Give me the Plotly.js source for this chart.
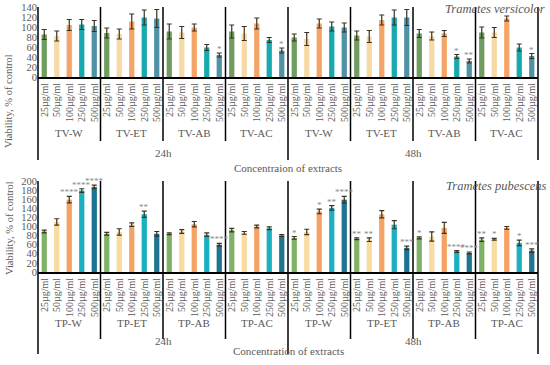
<!DOCTYPE html>
<html>
<head>
<meta charset="utf-8">
<script src="https://cdn.plot.ly/plotly-3.0.1.min.js"></script>
<style>html,body{margin:0;padding:0;background:#fff}#chart{width:550px;height:365px}</style>
</head>
<body>
<div id="chart"></div>
<script>
// ---- data ----
const concentrations = ["25µg/ml","50µg/ml","100µg/ml","250µg/ml","500µg/ml"];
const tvGroups = ["TV-W","TV-ET","TV-AB","TV-AC","TV-W","TV-ET","TV-AB","TV-AC"];
const tpGroups = ["TP-W","TP-ET","TP-AB","TP-AC","TP-W","TP-ET","TP-AB","TP-AC"];
const times = ["24h","48h"];

// Trametes versicolor (values per group, one array per concentration)
const tv25  = [85, 88, 91, 91, 79, 83, 87, 89];
const tv50  = [82, 86, 89, 87, 76, 81, 82, 89];
const tv100 = [104, 111, 99, 107, 107, 114, 87, 117];
const tv250 = [105, 119, 59, 74, 101, 119, 41, 59];
const tv500 = [102, 117, 44, 53, 99, 119, 32, 42];
const tv25err  = [10, 10, 15, 13, 7, 9, 8, 11];
const tv50err  = [10, 10, 12, 14, 13, 12, 8, 10];
const tv100err = [11, 15, 7, 11, 9, 10, 6, 5];
const tv250err = [10, 15, 6, 5, 9, 15, 4, 7];
const tv500err = [11, 18, 4, 5, 9, 16, 4, 5];
const tv25stars  = ["","","","","","","",""];
const tv50stars  = ["","","","","","","",""];
const tv100stars = ["","","","","","","",""];
const tv250stars = ["","","","","","","*",""];
const tv500stars = ["","","*","*","","","**","*"];

// Trametes pubescens
const tp25  = [89, 84, 84, 92, 75, 73, 75, 71];
const tp50  = [110, 88, 89, 86, 88, 71, 78, 72];
const tp100 = [159, 104, 105, 100, 133, 127, 97, 97];
const tp250 = [179, 127, 82, 96, 141, 104, 45, 64];
const tp500 = [187, 84, 60, 80, 159, 53, 42, 47];
const tp25err  = [3, 3, 2, 4, 3, 2, 2, 4];
const tp50err  = [7, 7, 4, 3, 6, 4, 10, 2];
const tp100err = [7, 4, 6, 3, 5, 8, 12, 3];
const tp250err = [4, 7, 4, 3, 5, 9, 2, 6];
const tp500err = [4, 5, 3, 2, 7, 4, 2, 4];
const tp25stars  = ["","","","","*","**","*","**"];
const tp50stars  = ["","","","","","**","","*"];
const tp100stars = ["****","","","","*","","",""];
const tp250stars = ["****","**","","","**","","****","*"];
const tp500stars = ["****","","****","","****","***","****","***"];

// ---- styling ----
const tvColors = ["#6f9c5f","#f7d9a6","#f4a467","#16a9ad","#4f92a6"];
const tpColors = ["#7fb266","#f9dba0","#f5a264","#1bb0c0","#1d7391"];
const errColor = "#3b3322";
const FONT = "Liberation Serif, Times New Roman, serif";
const GREY = "#595959";

const tvVals = [tv25, tv50, tv100, tv250, tv500];
const tvErrs = [tv25err, tv50err, tv100err, tv250err, tv500err];
const tvStars = [tv25stars, tv50stars, tv100stars, tv250stars, tv500stars];
const tpVals = [tp25, tp50, tp100, tp250, tp500];
const tpErrs = [tp25err, tp50err, tp100err, tp250err, tp500err];
const tpStars = [tp25stars, tp50stars, tp100stars, tp250stars, tp500stars];

const nC = concentrations.length, nG = tvGroups.length;
const H = 365, L = 38, PW = 500;
const px = p => 1 - p / H;          // pixel row -> paper y
const pxX = p => (p - L) / PW;       // pixel column -> paper x

const traces = [];
const annotations = [];

function addSet(vals, errs, stars, colors, xa, ya) {
  for (let c = 0; c < nC; c++) {
    const xs = vals[c].map((v, g) => g * nC + c);
    traces.push({
      type: "bar", x: xs, y: vals[c], width: 0.42,
      marker: {color: colors[c]},
      error_y: {type: "data", array: errs[c], visible: true, color: errColor, thickness: 1.2, width: 2.5},
      xaxis: xa, yaxis: ya, showlegend: false, hoverinfo: "y"
    });
    vals[c].forEach((v, g) => {
      if (stars[c][g]) {
        annotations.push({
          x: g * nC + c, y: v + errs[c][g], xref: xa, yref: ya,
          text: stars[c][g], showarrow: false, yanchor: "bottom", yshift: -3,
          font: {family: FONT, size: 9, color: "#8a8a8a"}
        });
      }
    });
  }
}
addSet(tvVals, tvErrs, tvStars, tvColors, "x", "y");
addSet(tpVals, tpErrs, tpStars, tpColors, "x2", "y2");

const tickvals = [], ticktext = [];
for (let g = 0; g < nG; g++) for (let c = 0; c < nC; c++) { tickvals.push(g * nC + c); ticktext.push(concentrations[c]); }

// group labels, time labels
function labels(groups, groupY, timeY, xa) {
  groups.forEach((name, g) => annotations.push({
    x: g * nC + (nC - 1) / 2, xref: xa, y: px(groupY), yref: "paper", text: name, showarrow: false,
    font: {family: FONT, size: 11, color: GREY}
  }));
  times.forEach((t, i) => annotations.push({
    x: i * nC * nG / 2 + (nC * nG / 2 - 1) / 2, xref: xa, y: px(timeY), yref: "paper", text: t, showarrow: false,
    font: {family: FONT, size: 11, color: GREY}
  }));
}
labels(tvGroups, 133, 153, "x");
labels(tpGroups, 331, 349, "x2");

annotations.push({x: 0.5, xref: "paper", y: px(168), yref: "paper", text: "Concentraion of extracts", showarrow: false, font: {family: FONT, size: 11, color: GREY}});
annotations.push({x: 0.5, xref: "paper", y: px(359), yref: "paper", text: "Concentration of extracts", showarrow: false, font: {family: FONT, size: 11, color: GREY}});
annotations.push({x: pxX(547), xref: "paper", xanchor: "right", y: px(0), yanchor: "top", yref: "paper", text: "<i>Trametes versicolor</i>", showarrow: false, font: {family: FONT, size: 12.5, color: GREY}});
annotations.push({x: pxX(548), xref: "paper", xanchor: "right", y: px(177), yanchor: "top", yref: "paper", text: "<i>Trametes pubescens</i>", showarrow: false, font: {family: FONT, size: 12.5, color: GREY}});
// y-axis titles
annotations.push({x: pxX(9), xref: "paper", xanchor: "center", y: px(52), yref: "paper", text: "Viability, % of control", textangle: -90, showarrow: false, font: {family: FONT, size: 10.5, color: GREY}});
annotations.push({x: pxX(9), xref: "paper", xanchor: "center", y: px(228), yref: "paper", text: "Viability, % of control", textangle: -90, showarrow: false, font: {family: FONT, size: 10.5, color: GREY}});

// separator lines
const shapes = [];
function seps(top, shortBottom, longBottom) {
  for (let g = 0; g <= nG; g++) {
    const isLong = (g === 0 || g === nG || g === nG / 2);
    shapes.push({type: "line", xref: "paper", yref: "paper", x0: g / nG, x1: g / nG,
      y0: px(top), y1: px(isLong ? longBottom : shortBottom), line: {color: "#000", width: 1.5}});
  }
}
seps(7, 141, 160);
seps(181, 339, 354);

const axFont = {family: FONT, size: 10.5, color: GREY};
const xCommon = {
  range: [-0.5, nC * nG - 0.5], tickmode: "array", tickvals: tickvals, ticktext: ticktext,
  tickangle: -90, tickfont: {family: FONT, size: 10, color: GREY}, showgrid: false, zeroline: false,
  showline: true, linecolor: "#000", linewidth: 2, ticks: "", fixedrange: true
};
const yCommon = {
  dtick: 20, tickfont: axFont, showgrid: false, zeroline: false, showline: false, ticks: ""
};

const layout = {
  width: 550, height: 365,
  margin: {l: L, r: 550 - L - PW, t: 0, b: 0},
  paper_bgcolor: "#fff", plot_bgcolor: "#fff",
  barmode: "overlay", showlegend: false,
  xaxis: Object.assign({}, xCommon, {anchor: "y", domain: [0, 1]}),
  yaxis: Object.assign({}, yCommon, {range: [0, 140], domain: [px(77), px(7)], anchor: "x"}),
  xaxis2: Object.assign({}, xCommon, {anchor: "y2", domain: [0, 1]}),
  yaxis2: Object.assign({}, yCommon, {range: [0, 200], domain: [px(272), px(181)], anchor: "x2"}),
  annotations: annotations, shapes: shapes,
  font: {family: FONT}
};

Plotly.newPlot("chart", traces, layout, {displayModeBar: false, staticPlot: true});
</script>
</body>
</html>
